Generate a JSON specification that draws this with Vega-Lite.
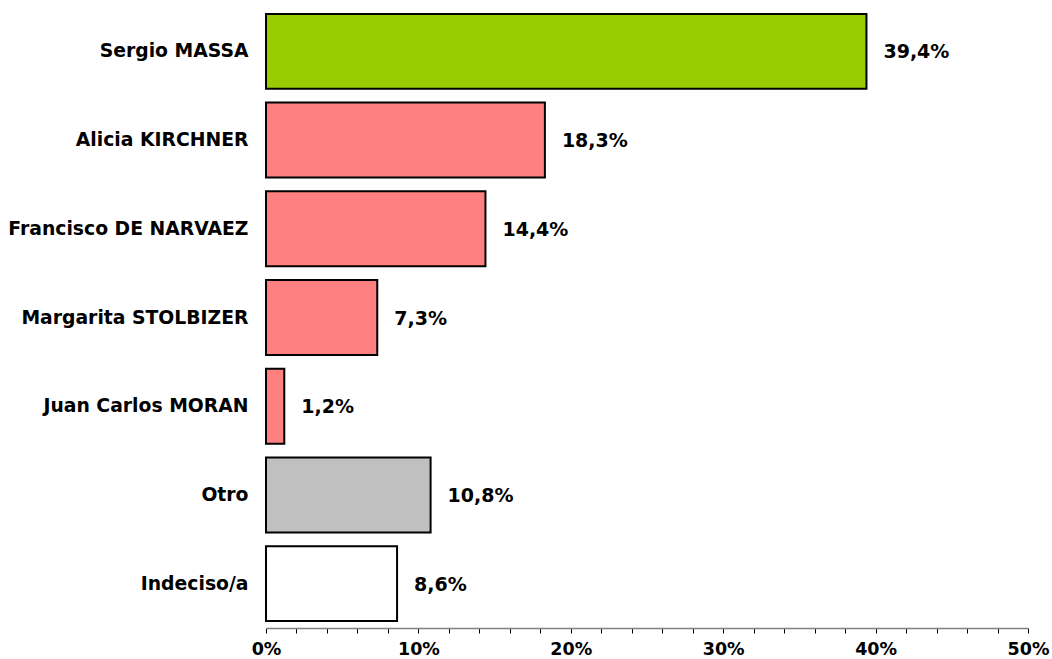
{
  "$schema": "https://vega.github.io/schema/vega-lite/v6.json",
  "width": 762,
  "height": 621,
  "autosize": {"type": "none"},
  "padding": {"left": 266, "top": 7, "right": 24, "bottom": 31},
  "background": "white",
  "config": {
    "view": {"stroke": null},
    "font": "DejaVu Sans",
    "locale": {"number": {"decimal": ",", "thousands": ".", "grouping": [3], "currency": ["", " €"]}}
  },
  "data": {
    "values": [
      {"candidato": "Sergio MASSA", "valor": 0.394},
      {"candidato": "Alicia KIRCHNER", "valor": 0.183},
      {"candidato": "Francisco DE NARVAEZ", "valor": 0.144},
      {"candidato": "Margarita STOLBIZER", "valor": 0.073},
      {"candidato": "Juan Carlos MORAN", "valor": 0.012},
      {"candidato": "Otro", "valor": 0.108},
      {"candidato": "Indeciso/a", "valor": 0.086}
    ]
  },
  "encoding": {
    "y": {
      "field": "candidato",
      "type": "nominal",
      "sort": null,
      "scale": {"paddingInner": 0.155, "paddingOuter": 0.0775},
      "axis": {
        "title": null,
        "domain": false,
        "ticks": false,
        "labelPadding": 18,
        "labelFont": "DejaVu Sans",
        "labelFontWeight": "bold",
        "labelFontSize": 18.8,
        "labelColor": "black",
        "labelLimit": 300
      }
    },
    "x": {
      "field": "valor",
      "type": "quantitative",
      "scale": {"domain": [0, 0.5], "nice": false},
      "axis": {
        "title": null,
        "grid": false,
        "values": [0, 0.02, 0.04, 0.06, 0.08, 0.1, 0.12, 0.14, 0.16, 0.18, 0.2, 0.22, 0.24, 0.26, 0.28, 0.3, 0.32, 0.34, 0.36, 0.38, 0.4, 0.42, 0.44, 0.46, 0.48, 0.5],
        "format": ".0%",
        "labelExpr": "round(datum.value*100) % 10 == 0 ? datum.label : ''",
        "domainColor": "#808080",
        "domainWidth": 1.5,
        "tickColor": "black",
        "tickSize": 5,
        "tickWidth": 1,
        "labelPadding": 7,
        "labelFont": "DejaVu Sans",
        "labelFontWeight": "bold",
        "labelFontSize": 17.5,
        "labelColor": "black",
        "labelFlush": false,
        "labelOverlap": false
      }
    }
  },
  "layer": [
    {
      "mark": {"type": "bar", "stroke": "black", "strokeWidth": 2},
      "encoding": {
        "color": {
          "field": "candidato",
          "type": "nominal",
          "legend": null,
          "scale": {
            "domain": ["Sergio MASSA", "Alicia KIRCHNER", "Francisco DE NARVAEZ", "Margarita STOLBIZER", "Juan Carlos MORAN", "Otro", "Indeciso/a"],
            "range": ["#99CC00", "#FF8080", "#FF8080", "#FF8080", "#FF8080", "#C0C0C0", "#FFFFFF"]
          }
        }
      }
    },
    {
      "mark": {"type": "text", "align": "left", "baseline": "middle", "dx": 17, "dy": 1, "font": "DejaVu Sans", "fontWeight": "bold", "fontSize": 19, "color": "black"},
      "encoding": {
        "text": {"field": "valor", "type": "quantitative", "format": ".1%"}
      }
    }
  ]
}
